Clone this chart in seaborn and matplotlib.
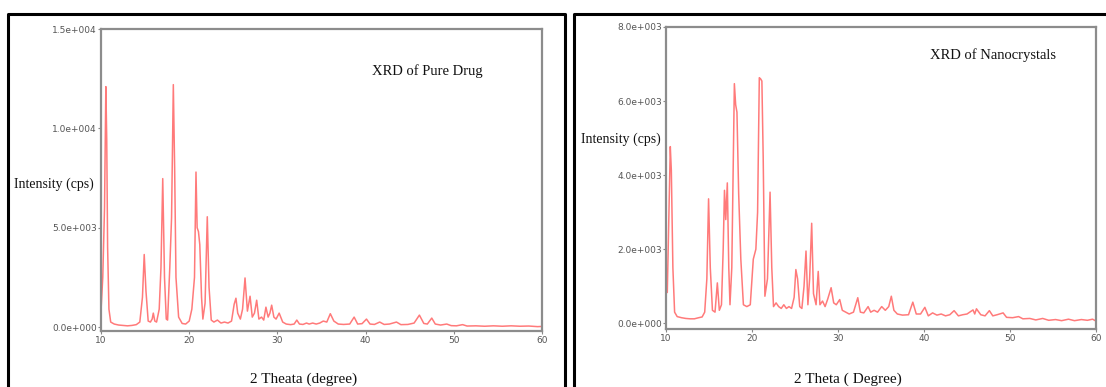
import matplotlib
matplotlib.use("Agg")
import matplotlib.pyplot as plt
import seaborn as sns
import pandas as pd
from matplotlib.lines import Line2D

# XRD of pure drug (2 theta, intensity in cps)
drug_2theta = [10.0, 10.2, 10.4, 10.55, 10.65, 10.75, 10.9, 11.1, 11.5, 12.0, 12.5, 13.0, 13.5, 14.0,
               14.4, 14.7, 14.9, 15.1, 15.35, 15.6, 15.8, 15.93, 16.1, 16.3, 16.6, 16.8, 17.0, 17.2,
               17.4, 17.55, 17.8, 18.0, 18.2, 18.35, 18.5, 18.8, 19.2, 19.6, 20.0, 20.3, 20.6, 20.77,
               20.9, 21.05, 21.2, 21.4, 21.55, 21.8, 22.05, 22.25, 22.5, 22.8, 23.2, 23.6, 24.0, 24.4,
               24.8, 25.1, 25.3, 25.5, 25.8, 26.05, 26.33, 26.6, 26.9, 27.15, 27.4, 27.65, 27.9, 28.2,
               28.45, 28.7, 28.95, 29.15, 29.35, 29.6, 29.85, 30.2, 30.6, 31.0, 31.5, 31.9, 32.2, 32.5,
               32.9, 33.3, 33.6, 34.0, 34.4, 34.8, 35.2, 35.6, 36.0, 36.4, 36.9, 37.5, 38.2, 38.7, 39.1,
               39.6, 40.1, 40.5, 41.0, 41.6, 42.1, 42.7, 43.5, 44.0, 44.8, 45.5, 46.1, 46.6, 47.0, 47.5,
               47.9, 48.5, 49.2, 49.7, 50.3, 51.0, 51.5, 52.5, 53.5, 54.5, 55.5, 56.5, 57.5, 58.5, 59.5,
               60.0]
drug_cps = [800, 2500, 6000, 12100, 9450, 4000, 900, 250, 150, 100, 80, 60, 80, 120,
            250, 1500, 3650, 1800, 300, 250, 400, 700, 300, 250, 900, 3000, 7470, 2500,
            400, 350, 3000, 5500, 12200, 8000, 2500, 500, 180, 150, 300, 900, 2500, 7800,
            5000, 4800, 4150, 1500, 400, 1200, 5550, 2000, 350, 250, 350, 200, 250, 200,
            300, 1150, 1450, 700, 400, 900, 2470, 800, 1550, 500, 700, 1350, 400, 500,
            350, 1000, 500, 700, 1100, 500, 400, 700, 250, 150, 120, 150, 350, 150,
            130, 200, 150, 200, 150, 200, 300, 250, 670, 300, 150, 130, 150, 500, 150,
            170, 400, 150, 130, 250, 130, 150, 250, 120, 130, 200, 600, 180, 150, 450,
            150, 100, 150, 70, 60, 120, 50, 60, 40, 60, 40, 60, 40, 50, 20,
            30]

# XRD of nanocrystals
nano_2theta = [10.0, 10.15, 10.3, 10.5, 10.62, 10.8, 11.0, 11.3, 11.8, 12.3, 12.8, 13.3, 13.8, 14.2,
               14.5, 14.75, 14.95, 15.15, 15.4, 15.7, 15.97, 16.2, 16.45, 16.65, 16.8, 16.95, 17.13,
               17.3, 17.44, 17.65, 17.95, 18.1, 18.25, 18.45, 18.7, 19.0, 19.4, 19.8, 20.15, 20.45,
               20.65, 20.85, 21.0, 21.15, 21.3, 21.5, 21.8, 22.1, 22.3, 22.5, 22.8, 23.1, 23.4, 23.7,
               24.0, 24.3, 24.6, 24.9, 25.1, 25.3, 25.55, 25.8, 26.05, 26.28, 26.5, 26.7, 26.94, 27.15,
               27.45, 27.7, 27.9, 28.2, 28.5, 28.8, 29.2, 29.5, 29.8, 30.2, 30.5, 30.9, 31.3, 31.8,
               32.3, 32.6, 33.0, 33.5, 33.8, 34.2, 34.6, 35.08, 35.5, 35.9, 36.2, 36.5, 36.9, 37.5,
               38.2, 38.7, 39.1, 39.6, 40.1, 40.5, 41.0, 41.5, 42.0, 42.5, 43.0, 43.5, 44.0, 44.5,
               45.0, 45.7, 45.9, 46.1, 46.6, 47.1, 47.6, 48.0, 48.5, 49.2, 49.6, 50.3, 51.0, 51.5,
               52.3, 53.0, 53.8, 54.5, 55.3, 56.0, 56.8, 57.5, 58.3, 59.0, 59.6, 60.0]
nano_cps = [1550, 830, 2500, 4770, 4130, 1500, 300, 180, 150, 130, 120, 120, 150, 170,
            300, 1200, 3360, 1500, 350, 300, 1090, 350, 500, 2000, 3590, 2800, 3790,
            1500, 500, 1500, 6470, 5900, 5700, 3500, 1730, 500, 450, 500, 1730, 2000,
            3000, 6630, 6600, 6540, 4500, 730, 1200, 3540, 1500, 450, 550, 450, 400, 500,
            400, 450, 400, 700, 1450, 1200, 450, 400, 1000, 1950, 500, 1200, 2700, 800,
            500, 1400, 500, 600, 450, 650, 960, 550, 500, 640, 350, 300, 250, 300,
            690, 300, 280, 450, 300, 350, 300, 450, 350, 450, 730, 350, 250, 220,
            230, 570, 250, 250, 430, 200, 280, 220, 250, 200, 230, 340, 200, 230,
            250, 360, 250, 390, 230, 200, 340, 200, 230, 280, 160, 150, 180, 120,
            130, 90, 130, 80, 100, 70, 110, 70, 100, 80, 110, 60]

drug_ticks = [0, 5000, 10000, 15000]
drug_ticklabels = ["0.0e+000", "5.0e+003", "1.0e+004", "1.5e+004"]
nano_ticks = [0, 2000, 4000, 6000, 8000]
nano_ticklabels = ["0.0e+000", "2.0e+003", "4.0e+003", "6.0e+003", "8.0e+003"]
x_ticks = [10, 20, 30, 40, 50, 60]

df_drug = pd.DataFrame({"two_theta": drug_2theta, "cps": drug_cps})
df_nano = pd.DataFrame({"two_theta": nano_2theta, "cps": nano_cps})

sns.set_style("white")
plt.rcParams['font.family'] = ['DejaVu Sans']

W, H = 1106, 387
fig = plt.figure(figsize=(W / 100, H / 100), dpi=100)

def px(x0, y0, x1, y1):
    # pixel box -> figure fraction [left, bottom, width, height]
    return [x0 / W, 1 - y1 / H, (x1 - x0) / W, (y1 - y0) / H]

ax1 = fig.add_axes(px(101, 29, 542, 331))
ax2 = fig.add_axes(px(666, 27, 1096, 329))

line_color = "#ff7a7a"
sns.lineplot(data=df_drug, x="two_theta", y="cps", ax=ax1, color=line_color,
             linewidth=1.1, estimator=None, sort=False)
sns.lineplot(data=df_nano, x="two_theta", y="cps", ax=ax2, color=line_color,
             linewidth=1.1, estimator=None, sort=False)

for ax, ticks, labels, ylim in [(ax1, drug_ticks, drug_ticklabels, (-200, 15000)),
                                (ax2, nano_ticks, nano_ticklabels, (-155, 8000))]:
    ax.set_xlim(10, 60)
    ax.set_ylim(*ylim)
    ax.set_xticks(x_ticks)
    ax.set_xticklabels([str(t) for t in x_ticks])
    ax.set_yticks(ticks)
    ax.set_yticklabels(labels)
    ax.set_xlabel("")
    ax.set_ylabel("")
    ax.tick_params(axis="both", labelsize=6.5, labelcolor="#555555", color="#888888",
                   length=2.5, width=0.8, pad=1, direction="out")
    ax.tick_params(axis="y", left=True, pad=0.5)
    ax.tick_params(axis="x", bottom=True)
    for s in ax.spines.values():
        s.set_color("#8c8c8c")
        s.set_linewidth(1.6)

serif = ["Liberation Serif", "DejaVu Serif"]
fig.text(427 / W, 1 - 71 / H, "XRD of Pure Drug", family=serif, fontsize=10.5,
         ha="center", va="center", color="#111111")
fig.text(993 / W, 1 - 55 / H, "XRD of Nanocrystals", family=serif, fontsize=10.5,
         ha="center", va="center", color="#111111")
fig.text(54 / W, 1 - 184 / H, "Intensity (cps)", family=serif, fontsize=10,
         ha="center", va="center", color="#111111")
fig.text(621 / W, 1 - 139 / H, "Intensity (cps)", family=serif, fontsize=10,
         ha="center", va="center", color="#111111")
fig.text(304 / W, 1 - 379 / H, "2 Theata (degree)", family=serif, fontsize=11,
         ha="center", va="center", color="#111111")
fig.text(848 / W, 1 - 379 / H, "2 Theta ( Degree)", family=serif, fontsize=11,
         ha="center", va="center", color="#111111")

# black boxes around each panel
def frame_line(xs, ys):
    fig.add_artist(Line2D([x / W for x in xs], [1 - y / H for y in ys],
                          transform=fig.transFigure, color="black", linewidth=2.2))

frame_line([7.5, 7.5, 564.5, 564.5], [390, 13.5, 13.5, 390])
frame_line([574.5, 574.5, 1110], [390, 13.5, 13.5])

fig.savefig("out.png", dpi=100)
